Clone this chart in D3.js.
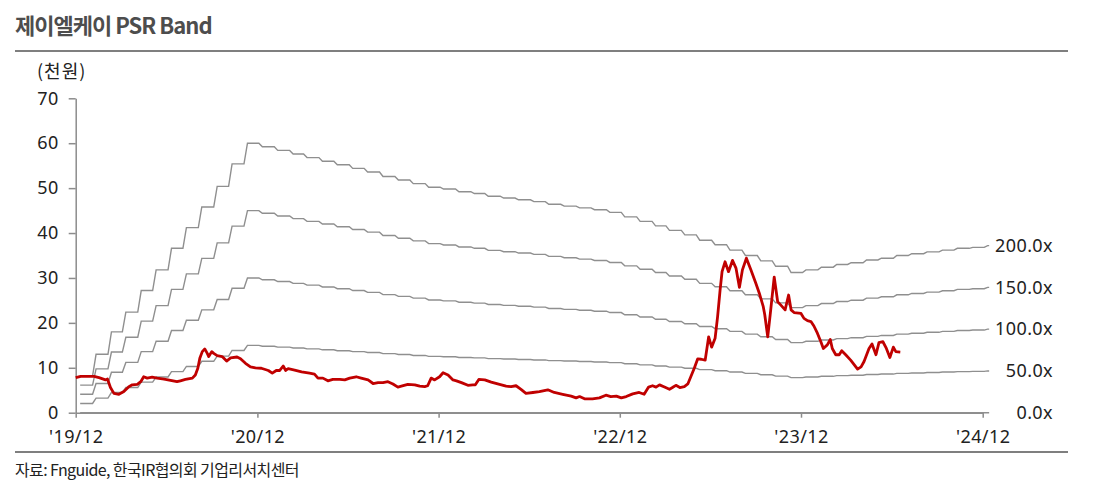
<!DOCTYPE html>
<html>
<head>
<meta charset="utf-8">
<script src="https://cdn.jsdelivr.net/npm/d3@7"></script>
<style>
body{margin:0;background:#fff}
text{font-family:"Noto Sans","Noto Sans CJK KR",sans-serif}
</style>
</head>
<body>
<div id="container"></div>
<script>
// PSR band multiples
var multiples = [0, 50, 100, 150, 200]
var bandLabels = ["0.0x", "50.0x", "100.0x", "150.0x", "200.0x"]

// monthly sales per share (won), Dec 2019 .. Dec 2024
var spsWon = [41, 65, 90, 112, 136, 159, 183, 206, 229, 252, 277, 300,
    296, 292, 288, 284, 280, 276, 272, 268, 263, 259, 255, 251,
    249, 246, 244, 241, 239, 237, 235, 232, 230, 228, 226, 223,
    218, 213, 208, 203, 198, 192, 187, 181, 175, 169, 163, 156,
    159, 162, 165, 167, 170, 172, 175, 177, 179, 181, 183, 184, 186]
var bandStart = "2019-12-10"
var bandEnd = "2024-12-14"

var yTicks = [0, 10, 20, 30, 40, 50, 60, 70]
var xTickDates = ["2019-12-01", "2020-12-01", "2021-12-01", "2022-12-01", "2023-12-01", "2024-12-01"]
var xTickLabels = ["'19/12", "'20/12", "'21/12", "'22/12", "'23/12", "'24/12"]

// share price (thousand won)
var priceDates = ["2019-12-01","2019-12-11","2020-01-07","2020-01-17","2020-01-30","2020-02-03","2020-02-09","2020-02-16","2020-02-26","2020-03-07",
"2020-03-17","2020-03-24","2020-04-03","2020-04-10","2020-04-16","2020-04-23","2020-05-03","2020-05-13","2020-05-27","2020-06-09",
"2020-06-22","2020-06-29","2020-07-09","2020-07-23","2020-07-29","2020-08-03","2020-08-07","2020-08-12","2020-08-17","2020-08-22",
"2020-08-25","2020-08-31","2020-09-04","2020-09-11","2020-09-21","2020-09-30","2020-10-08","2020-10-21","2020-10-28","2020-11-07",
"2020-11-17","2020-11-27","2020-12-09","2020-12-23","2020-12-31","2021-01-08","2021-01-15","2021-01-22","2021-01-27","2021-02-01",
"2021-02-14","2021-02-28","2021-03-16","2021-03-26","2021-04-02","2021-04-12","2021-04-22","2021-05-02","2021-05-16","2021-05-26",
"2021-06-05","2021-06-18","2021-06-28","2021-07-12","2021-07-22","2021-08-01","2021-08-11","2021-08-21","2021-08-31","2021-09-10",
"2021-09-17","2021-09-30","2021-10-14","2021-10-24","2021-11-03","2021-11-09","2021-11-16","2021-11-23","2021-12-03","2021-12-10",
"2021-12-20","2021-12-30","2022-01-06","2022-01-16","2022-01-29","2022-02-08","2022-02-13","2022-02-20","2022-03-04","2022-03-17",
"2022-03-30","2022-04-16","2022-04-26","2022-05-06","2022-05-16","2022-05-26","2022-06-09","2022-06-22","2022-07-09","2022-07-22",
"2022-08-08","2022-08-25","2022-09-04","2022-09-11","2022-09-21","2022-10-07","2022-10-21","2022-11-03","2022-11-13","2022-11-24",
"2022-12-04","2022-12-14","2022-12-27","2023-01-09","2023-01-19","2023-01-28","2023-02-05","2023-02-12","2023-02-19","2023-03-01",
"2023-03-11","2023-03-17","2023-03-24","2023-04-01","2023-04-10","2023-04-17","2023-04-23","2023-04-30","2023-05-07","2023-05-14",
"2023-05-22","2023-05-29","2023-06-04","2023-06-11","2023-06-16","2023-06-21","2023-06-25","2023-07-01","2023-07-08","2023-07-16",
"2023-07-23","2023-07-30","2023-08-05","2023-08-13","2023-08-22","2023-09-01","2023-09-08","2023-09-16","2023-09-19","2023-09-25",
"2023-10-01","2023-10-08","2023-10-15","2023-10-21","2023-10-30","2023-11-06","2023-11-11","2023-11-17","2023-12-01","2023-12-07",
"2023-12-14","2023-12-21","2023-12-27","2024-01-03","2024-01-10","2024-01-15","2024-01-23","2024-01-29","2024-02-02","2024-02-09",
"2024-02-16","2024-02-21","2024-02-29","2024-03-10","2024-03-24","2024-03-31","2024-04-06","2024-04-16","2024-04-22","2024-04-30",
"2024-05-06","2024-05-14","2024-05-21","2024-05-28","2024-06-04","2024-06-09","2024-06-18"]
var priceValues = [7.8,8.1,8.1,7.8,7.3,7.5,5.6,4.3,4.1,4.7,
5.8,6.2,6.3,6.9,8.0,7.7,7.9,7.7,7.5,7.2,
6.9,7.1,7.4,7.7,8.4,9.9,12.1,13.6,14.2,13.2,
12.5,13.6,13.2,12.7,12.5,11.5,12.2,12.4,12.0,11.0,
10.2,10.0,9.9,9.4,8.8,9.4,9.4,10.4,9.4,9.8,
9.5,9.1,8.8,8.6,7.7,7.7,7.1,7.4,7.4,7.3,
7.7,8.0,7.7,7.3,6.5,6.7,6.7,6.9,6.4,5.7,
5.9,6.3,6.2,5.9,5.8,6.0,7.7,7.3,8.0,8.9,
8.4,7.3,7.1,6.7,6.1,6.2,6.2,7.4,7.3,6.8,
6.4,5.9,5.8,6.0,5.2,4.3,4.5,4.7,5.1,4.5,
4.1,3.7,3.3,3.6,3.1,3.1,3.3,3.9,3.6,3.7,
3.3,3.6,4.2,4.5,4.1,5.7,6.0,5.7,6.2,5.7,
5.2,5.6,6.1,5.6,5.8,6.4,8.0,9.9,12.0,11.9,
11.7,16.9,14.6,16.6,21.4,27.3,31.4,33.6,31.4,33.9,
32.2,27.9,31.8,34.4,31.8,28.8,26.6,23.6,21.8,16.9,
22.9,30.2,24.7,24.0,22.9,26.2,22.9,22.3,22.1,21.0,
20.5,20.3,19.3,17.7,15.8,14.3,15.1,16.3,14.3,12.9,
12.9,13.8,12.9,11.7,9.7,10.2,11.4,14.3,15.3,12.9,
15.6,15.8,14.3,12.3,14.6,13.6,13.5]

var parse = d3.timeParse("%Y-%m-%d")
var bandMonths = d3.timeMonth.range(new Date(2019, 11, 1), new Date(2025, 0, 1))

var svg = d3.select("#container").append("svg").attr("width", 1098).attr("height", 487)

var xScale = d3.scaleTime().domain([parse(xTickDates[0]), parse(xTickDates[5])]).range([75.7, 982.7])
var yScale = d3.scaleLinear().domain([0, 70]).range([412.7, 98.3])

// title + rules
svg.append("text").attr("x", 15).attr("y", 34)
    .style("font-family", "'Noto Sans CJK KR',sans-serif")
    .style("font-size", "22px").style("font-weight", "bold")
    .style("letter-spacing", "-1px").attr("fill", "#4d4d4d")
    .text("제이엘케이 PSR Band")
svg.append("line").attr("x1", 15).attr("x2", 1068).attr("y1", 51).attr("y2", 51)
    .attr("stroke", "#7f7f7f").attr("stroke-width", 2)
svg.append("line").attr("x1", 15).attr("x2", 1068).attr("y1", 452).attr("y2", 452)
    .attr("stroke", "#7f7f7f").attr("stroke-width", 2)
svg.append("text").attr("x", 15).attr("y", 476)
    .style("font-family", "'Noto Sans CJK KR',sans-serif")
    .style("font-size", "16px").style("letter-spacing", "-0.6px").attr("fill", "#222")
    .text("자료: Fnguide, 한국IR협의회 기업리서치센터")
svg.append("text").attr("x", 37).attr("y", 78)
    .style("font-family", "'Noto Sans CJK KR',sans-serif")
    .style("font-size", "18px").style("letter-spacing", "1px").attr("fill", "#222")
    .text("(천원)")

// axes
var yAxis = svg.append("g").attr("transform", "translate(75.7,0)")
    .call(d3.axisLeft(yScale).tickValues(yTicks).tickSize(7).tickSizeOuter(0).tickPadding(10))
var xAxis = svg.append("g").attr("transform", "translate(0,412.7)")
    .call(d3.axisBottom(xScale).tickValues(xTickDates.map(parse)).tickSize(5).tickSizeOuter(0).tickPadding(13)
        .tickFormat(function(d, i){return xTickLabels[i]}))
svg.selectAll(".domain, .tick line").attr("stroke", "#8c8c8c").attr("stroke-width", 1.5)
svg.selectAll(".tick text").attr("fill", "#222").style("font-size", "18px").style("letter-spacing", "0.4px")

// band lines
function bandPoints(m){
    var pts = [[parse(bandStart), spsWon[0] * m / 1000]]
    for(var i = 1; i < spsWon.length; i++){
        var mo = bandMonths[i]
        pts.push([new Date(mo.getFullYear(), mo.getMonth(), 4), spsWon[i - 1] * m / 1000])
        pts.push([new Date(mo.getFullYear(), mo.getMonth(), 11), spsWon[i] * m / 1000])
    }
    pts.push([parse(bandEnd), spsWon[spsWon.length - 1] * m / 1000])
    return pts
}
var bandLine = d3.line()
    .x(function(d){return xScale(d[0])})
    .y(function(d){return yScale(d[1])})

multiples.forEach(function(m, i){
    svg.append("path")
        .attr("class", "band")
        .attr("fill", "none")
        .attr("stroke", "#8f8f8f")
        .attr("stroke-width", 1.4)
        .attr("d", bandLine(bandPoints(m)))
    svg.append("text")
        .attr("x", 1053)
        .attr("y", yScale(spsWon[spsWon.length - 1] * m / 1000))
        .attr("dy", "0.35em")
        .attr("text-anchor", "end")
        .attr("fill", "#222")
        .style("font-size", "18px")
        .style("letter-spacing", "0.4px")
        .text(bandLabels[i])
})

// price
var priceData = priceDates.map(function(d, i){return {date: parse(d), value: priceValues[i]}})
svg.append("path")
    .attr("fill", "none")
    .attr("stroke", "#c00000")
    .attr("stroke-width", 2.8)
    .attr("stroke-linejoin", "round")
    .attr("d", d3.line()
        .x(function(d){return xScale(d.date)})
        .y(function(d){return yScale(d.value)})
        (priceData))
</script>
</body>
</html>
